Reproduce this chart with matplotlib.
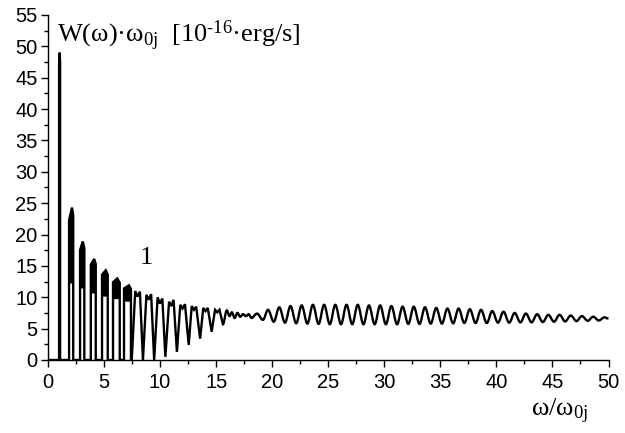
import matplotlib
matplotlib.use("Agg")
import matplotlib.pyplot as plt
from matplotlib.path import Path
from matplotlib.patches import PathPatch
from matplotlib.ticker import MultipleLocator

plt.rcParams["mathtext.fontset"] = "custom"
plt.rcParams["mathtext.rm"] = "Liberation Serif"
plt.rcParams["mathtext.it"] = "Liberation Serif:italic"

# --- low harmonics: narrow spikes with a dense ripple band on top ---
lobe_left = [0.99, 1.88, 2.86, 3.82, 4.82, 5.80, 6.78]
lobe_peak_x = [1.04, 2.14, 3.10, 4.12, 5.15, 6.18, 7.22]
lobe_right = [1.08, 2.25, 3.24, 4.26, 5.33, 6.40, 7.40]
lobe_top_left = [47.0, 22.3, 17.5, 15.2, 13.6, 12.4, 11.4]
lobe_top_peak = [49.0, 24.3, 18.9, 16.1, 14.3, 13.0, 11.9]
lobe_top_right = [47.5, 23.0, 17.8, 15.3, 13.6, 12.3, 11.3]
lobe_band_low = [47.0, 12.2, 11.4, 10.6, 10.1, 9.7, 9.3]

# --- harmonics 8..15: M-shaped tops, valleys filling up ---
mid_x = [7.47, 7.78, 7.98, 8.20, 8.47, 8.78, 8.98, 9.20, 9.47,
         9.78, 9.98, 10.20, 10.47, 10.80, 11.00, 11.20, 11.50,
         11.80, 12.00, 12.22, 12.55, 12.82, 13.02, 13.22, 13.57,
         13.85, 14.05, 14.25, 14.60, 14.90, 15.10, 15.30, 15.60]
mid_y = [0.0, 11.0, 10.1, 10.9, 0.0, 10.4, 9.6, 10.5, 0.0,
         10.0, 9.0, 9.8, 0.5, 9.3, 8.6, 9.6, 1.3,
         8.8, 8.2, 8.9, 2.4, 8.6, 8.0, 8.5, 3.4,
         8.3, 7.8, 8.3, 4.5, 8.0, 7.6, 8.0, 5.7]

# --- smooth oscillating tail: successive extrema ---
tail_x = [15.60, 15.95, 16.20, 16.40, 16.65, 16.90, 17.15, 17.40, 17.65,
          17.90, 18.15, 18.65, 19.17, 19.63, 20.14, 20.63, 21.14, 21.63,
          22.14, 22.63, 23.14, 23.63, 24.14, 24.63, 25.14, 25.63, 26.14,
          26.63, 27.14, 27.63, 28.14, 28.63, 29.14, 29.63, 30.14, 30.63,
          31.14, 31.63, 32.14, 32.63, 33.14, 33.63, 34.14, 34.63, 35.14,
          35.63, 36.14, 36.63, 37.14, 37.63, 38.14, 38.63, 39.14, 39.63,
          40.14, 40.63, 41.14, 41.63, 42.14, 42.63, 43.14, 43.63, 44.14,
          44.63, 45.14, 45.63, 46.14, 46.63, 47.14, 47.63, 48.14, 48.63,
          49.14, 49.63, 50.00]
tail_y = [5.7, 7.9, 7.0, 7.6, 6.7, 7.5, 6.9, 7.3, 7.0,
          7.3, 6.7, 7.4, 6.4, 8.0, 6.1, 8.4, 5.95, 8.6,
          5.85, 8.7, 5.8, 8.8, 5.75, 8.8, 5.7, 8.8, 5.7,
          8.8, 5.7, 8.8, 5.7, 8.7, 5.7, 8.7, 5.7, 8.6,
          5.7, 8.5, 5.75, 8.5, 5.75, 8.4, 5.8, 8.3, 5.8,
          8.2, 5.85, 8.2, 5.9, 8.1, 5.9, 8.0, 5.9, 7.8,
          5.95, 7.7, 5.95, 7.5, 6.0, 7.4, 6.0, 7.3, 6.05,
          7.2, 6.1, 7.2, 6.15, 7.1, 6.2, 7.0, 6.25, 6.9,
          6.3, 6.8, 6.6]

x_ticks = list(range(0, 51, 5))
y_ticks = list(range(0, 56, 5))

fig = plt.figure(figsize=(6.25, 4.33), dpi=100)
ax = fig.add_axes([0.0768, 0.1686, 0.8968, 0.7968])

lw = 1.7
# spikes
xs, ys = [0.0], [0.0]
for i in range(len(lobe_left)):
    xs += [lobe_left[i], lobe_left[i], lobe_peak_x[i], lobe_right[i], lobe_right[i]]
    ys += [0.0, lobe_top_left[i], lobe_top_peak[i], lobe_top_right[i], 0.0]
    if i > 0:
        ax.fill([lobe_left[i], lobe_left[i], lobe_peak_x[i], lobe_right[i], lobe_right[i]],
                [lobe_band_low[i], lobe_top_left[i], lobe_top_peak[i],
                 lobe_top_right[i], lobe_band_low[i]],
                color="black", lw=0)
xs += mid_x
ys += mid_y
ax.plot(xs, ys, color="black", lw=lw, solid_joinstyle="miter")

# smooth tail through the extrema (horizontal tangents)
verts = [(tail_x[0], tail_y[0])]
codes = [Path.MOVETO]
for i in range(1, len(tail_x)):
    d = tail_x[i] - tail_x[i - 1]
    verts += [(tail_x[i - 1] + 0.36 * d, tail_y[i - 1]),
              (tail_x[i] - 0.36 * d, tail_y[i]),
              (tail_x[i], tail_y[i])]
    codes += [Path.CURVE4] * 3
ax.add_patch(PathPatch(Path(verts, codes), fill=False, edgecolor="black",
                       lw=lw, transform=ax.transData))

ax.set_xlim(0, 50)
ax.set_ylim(0, 55)
ax.set_xticks(x_ticks)
ax.set_yticks(y_ticks)
ax.xaxis.set_minor_locator(MultipleLocator(2.5))
ax.yaxis.set_minor_locator(MultipleLocator(2.5))
ax.tick_params(which="major", direction="out", length=5, width=1.0,
               labelsize=14.5, pad=2.5)
ax.tick_params(axis="x", which="major", pad=4.5)
ax.tick_params(which="minor", direction="out", length=3, width=1.0)
for lab in ax.get_xticklabels() + ax.get_yticklabels():
    lab.set_family("Liberation Sans")
ax.spines["top"].set_visible(False)
ax.spines["right"].set_visible(False)
ax.spines["left"].set_linewidth(1.0)
ax.spines["bottom"].set_linewidth(1.0)

ax.text(0.016, 0.922, "W(ω)·ω$_{\\mathrm{0j}}$  [10$^{\u2010\\mathrm{16}}$·erg/s]",
        transform=ax.transAxes, family="Liberation Serif", fontsize=19,
        va="baseline", ha="left")
ax.text(8.73, 16.3, "1", family="Liberation Serif", fontsize=19,
        ha="center", va="center")
ax.text(0.913, -0.15, r"ω/ω$_{\mathrm{0j}}$", transform=ax.transAxes,
        family="Liberation Serif", fontsize=19, ha="center", va="center")

fig.savefig("out.png", dpi=100)
